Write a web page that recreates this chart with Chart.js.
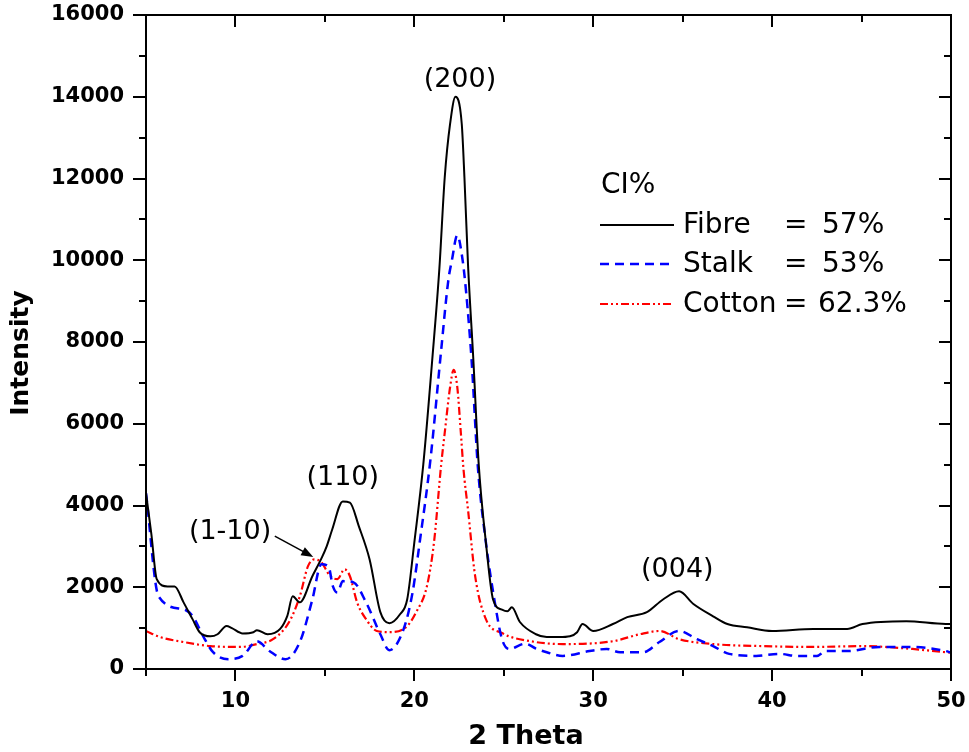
<!DOCTYPE html>
<html>
<head>
<meta charset="utf-8">
<title>XRD</title>
<script src="https://cdn.jsdelivr.net/npm/chart.js@4.4.0/dist/chart.umd.min.js"></script>
<style>
  html, body { margin: 0; padding: 0; background: #fff; }
  #wrap { width: 969px; height: 752px; }
</style>
</head>
<body>
<div id="wrap"><canvas id="xrdChart" width="969" height="752"></canvas></div>
<script>
// 2 Theta (deg) / intensity
const fibreX = [5.0, 5.3, 5.6, 6.2, 6.6, 7.1, 7.6, 8.0, 8.6, 9.0, 9.5, 9.8, 10.4, 11.0, 11.2, 11.8, 12.5, 12.9, 13.2, 13.6, 14.3, 14.8, 15.1, 15.4, 16.0, 16.4, 16.9, 17.5, 18.1, 18.6, 19.2, 19.6, 20.0, 20.5, 21.0, 21.4, 21.7, 22.0, 22.3, 22.65, 22.8, 23.0, 23.3, 23.6, 24.0, 24.4, 24.9, 25.2, 25.45, 25.9, 26.8, 27.4, 28.1, 28.7, 29.1, 29.4, 30.0, 31.1, 31.9, 33.0, 33.9, 34.8, 35.6, 36.7, 37.5, 38.6, 40.0, 42.3, 44.2, 45.05, 47.5, 49.7, 50.0];
const fibreY = [4300, 3300, 2200, 2020, 2020, 1630, 1220, 900, 800, 850, 1050, 1000, 870, 900, 950, 850, 980, 1300, 1780, 1630, 2270, 2700, 3000, 3400, 4100, 4070, 3490, 2680, 1390, 1120, 1340, 1700, 3100, 5000, 7560, 9800, 12030, 13340, 14000, 13340, 12030, 9900, 7560, 5000, 3100, 1700, 1450, 1410, 1510, 1150, 850, 780, 780, 800, 900, 1100, 930, 1100, 1270, 1390, 1700, 1900, 1590, 1290, 1100, 1020, 930, 980, 980, 1100, 1170, 1100, 1100];

const stalkX = [5.0, 5.7, 7.1, 7.6, 8.2, 8.75, 9.6, 10.4, 11.2, 11.9, 12.8, 13.6, 14.3, 14.8, 15.2, 15.45, 15.7, 16.0, 16.6, 17.3, 18.1, 18.6, 19.4, 19.9, 20.3, 20.9, 21.5, 21.9, 22.1, 22.4, 22.7, 22.9, 23.2, 23.55, 24.0, 24.5, 24.9, 25.3, 26.2, 26.8, 27.4, 28.3, 29.8, 30.75, 31.5, 32.8, 33.7, 34.8, 35.8, 36.7, 37.6, 39.1, 40.4, 41.4, 42.5, 43.0, 44.2, 46.0, 47.85, 49.7, 50.0];
const stalkY = [4300, 1780, 1460, 1300, 800, 410, 240, 320, 680, 440, 240, 660, 1700, 2560, 2510, 2020, 1870, 2150, 2120, 1630, 850, 460, 975, 1870, 3100, 5120, 7800, 9510, 10000, 10610, 10000, 9200, 7560, 4950, 3100, 1630, 730, 490, 620, 500, 410, 320, 440, 490, 410, 410, 660, 930, 730, 560, 370, 320, 370, 320, 320, 440, 440, 540, 540, 440, 400];

const cottonX = [5.0, 5.8, 7.1, 8.6, 10.3, 11.2, 12.1, 13.0, 13.6, 14.05, 14.4, 14.8, 15.3, 15.7, 16.1, 16.4, 16.8, 17.3, 17.9, 18.6, 19.6, 20.1, 20.7, 21.1, 21.5, 21.7, 22.0, 22.2, 22.4, 22.6, 22.75, 23.0, 23.4, 24.0, 24.9, 26.5, 28.3, 31.1, 32.6, 33.7, 34.8, 36.7, 39.5, 42.3, 45.05, 47.85, 49.7, 50.0];
const cottonY = [930, 780, 660, 560, 540, 610, 730, 1150, 1780, 2510, 2680, 2610, 2270, 2200, 2440, 2270, 1630, 1220, 930, 900, 1050, 1390, 2020, 3100, 5000, 5780, 6900, 7320, 6900, 5780, 4880, 3900, 2270, 1220, 880, 680, 610, 680, 850, 930, 730, 610, 560, 540, 560, 490, 410, 400];

const seriesNames = ['Fibre', 'Stalk', 'Cotton'];
const seriesCI = ['57%', '53%', '62.3%'];
const legendTitle = 'CI%';

const xTickLabels = [10, 20, 30, 40, 50];
const xTickMarks = [5, 10, 15, 20, 25, 30, 35, 40, 45, 50];
const yTickLabels = [0, 2000, 4000, 6000, 8000, 10000, 12000, 14000, 16000];
const yTickMarks = [0, 1000, 2000, 3000, 4000, 5000, 6000, 7000, 8000, 9000, 10000, 11000, 12000, 13000, 14000, 15000, 16000];

const peakNames = ['(1-10)', '(110)', '(200)', '(004)'];
const peakAt = [[9.7, 3350], [16.0, 4670], [22.55, 14410], [34.7, 2420]];
const arrowFrom = [12.2, 3250];
const arrowTo = [14.35, 2740];

const toPoints = (xs, ys) => xs.map((v, i) => ({ x: v, y: ys[i] }));

Chart.defaults.font.family = '"DejaVu Sans", sans-serif';
Chart.defaults.color = '#000';

function seg(ctx, x1, y1, x2, y2) {
    ctx.beginPath();
    ctx.moveTo(x1, y1);
    ctx.lineTo(x2, y2);
    ctx.stroke();
}

// no extra room for label overflow, the layout padding handles it
function noOverflow(s) {
    s.paddingTop = 0;
    s.paddingBottom = 0;
    s.paddingLeft = 0;
    s.paddingRight = 0;
}

const frameAndNotes = {
    id: 'frameAndNotes',
    afterDraw(chart) {
        const { ctx, chartArea: a, scales: { x, y } } = chart;
        ctx.save();
        ctx.strokeStyle = '#000';
        ctx.lineWidth = 2;
        ctx.setLineDash([]);
        ctx.strokeRect(a.left, a.top, a.right - a.left, a.bottom - a.top);

        // tick marks: outward bottom/left, inward top/right
        xTickMarks.forEach(v => {
            const px = Math.round(x.getPixelForValue(v));
            const major = xTickLabels.includes(v);
            seg(ctx, px, a.bottom, px, a.bottom + (major ? 12 : 7));
            seg(ctx, px, a.top, px, a.top + (major ? 12 : 7));
        });
        yTickMarks.forEach(v => {
            const py = Math.round(y.getPixelForValue(v));
            const major = yTickLabels.includes(v);
            seg(ctx, a.left - (major ? 13 : 7), py, a.left, py);
            seg(ctx, a.right - (major ? 12 : 7), py, a.right, py);
        });

        // peak labels
        ctx.fillStyle = '#000';
        ctx.font = '27px "DejaVu Sans"';
        ctx.textAlign = 'center';
        ctx.textBaseline = 'middle';
        peakNames.forEach((t, i) => {
            ctx.fillText(t, x.getPixelForValue(peakAt[i][0]), y.getPixelForValue(peakAt[i][1]));
        });

        // arrow to (1-10)
        const ax1 = x.getPixelForValue(arrowFrom[0]), ay1 = y.getPixelForValue(arrowFrom[1]);
        const ax2 = x.getPixelForValue(arrowTo[0]), ay2 = y.getPixelForValue(arrowTo[1]);
        const ang = Math.atan2(ay2 - ay1, ax2 - ax1);
        ctx.lineWidth = 1.5;
        seg(ctx, ax1, ay1, ax2 - 8 * Math.cos(ang), ay2 - 8 * Math.sin(ang));
        ctx.beginPath();
        ctx.moveTo(ax2, ay2);
        ctx.lineTo(ax2 - 12 * Math.cos(ang) + 4.5 * Math.sin(ang), ay2 - 12 * Math.sin(ang) - 4.5 * Math.cos(ang));
        ctx.lineTo(ax2 - 12 * Math.cos(ang) - 4.5 * Math.sin(ang), ay2 - 12 * Math.sin(ang) + 4.5 * Math.cos(ang));
        ctx.closePath();
        ctx.fill();

        // legend
        ctx.font = '28px "DejaVu Sans"';
        ctx.textAlign = 'left';
        ctx.fillText(legendTitle, 601, 186);
        const rows = [225, 264, 304];
        chart.data.datasets.forEach((ds, i) => {
            ctx.strokeStyle = ds.borderColor;
            ctx.lineWidth = ds.borderWidth;
            ctx.setLineDash(ds.borderDash || []);
            seg(ctx, 600, rows[i], 674, rows[i]);
            ctx.setLineDash([]);
            ctx.fillText(seriesNames[i], 683, rows[i] + 1);
            ctx.fillText('=', 784, rows[i] + 1);
            ctx.fillText(seriesCI[i], i === 2 ? 818 : 822, rows[i] + 1);
        });

        // axis titles
        ctx.font = 'bold 27px "DejaVu Sans"';
        ctx.textAlign = 'center';
        ctx.fillText('2 Theta', 526, 737);
        ctx.save();
        ctx.translate(21, 353);
        ctx.rotate(-Math.PI / 2);
        ctx.font = 'bold 25px "DejaVu Sans"';
        ctx.fillText('Intensity', 0, 0);
        ctx.restore();

        ctx.restore();
    }
};

new Chart(document.getElementById('xrdChart'), {
    type: 'line',
    data: {
        datasets: [
            {
                label: seriesNames[0],
                data: toPoints(fibreX, fibreY),
                borderColor: '#000000',
                borderWidth: 2,
                pointRadius: 0,
                cubicInterpolationMode: 'monotone'
            },
            {
                label: seriesNames[1],
                data: toPoints(stalkX, stalkY),
                borderColor: '#0000ff',
                borderWidth: 2.5,
                borderDash: [9, 6],
                pointRadius: 0,
                cubicInterpolationMode: 'monotone'
            },
            {
                label: seriesNames[2],
                data: toPoints(cottonX, cottonY),
                borderColor: '#ff0000',
                borderWidth: 2.2,
                borderDash: [8, 3, 2, 3, 2, 3],
                pointRadius: 0,
                cubicInterpolationMode: 'monotone'
            }
        ]
    },
    options: {
        responsive: false,
        animation: false,
        devicePixelRatio: 1,
        layout: { padding: { top: 15, right: 18, left: 0, bottom: 0 } },
        plugins: {
            legend: { display: false },
            tooltip: { enabled: false }
        },
        scales: {
            x: {
                type: 'linear',
                min: 5,
                max: 50,
                afterBuildTicks: s => { s.ticks = xTickLabels.map(v => ({ value: v })); },
                afterFit: s => { s.height = 83; noOverflow(s); },
                grid: { display: false, drawTicks: false },
                border: { display: false },
                ticks: {
                    autoSkip: false,
                    maxRotation: 0,
                    padding: 20,
                    font: { size: 21, weight: 'bold' },
                    callback: v => String(v)
                }
            },
            y: {
                type: 'linear',
                min: 0,
                max: 16000,
                afterBuildTicks: s => { s.ticks = yTickLabels.map(v => ({ value: v })); },
                afterFit: s => { s.width = 146; noOverflow(s); },
                grid: { display: false, drawTicks: false },
                border: { display: false },
                ticks: {
                    autoSkip: false,
                    padding: 22,
                    font: { size: 21, weight: 'bold' },
                    callback: v => String(v)
                }
            }
        }
    },
    plugins: [frameAndNotes]
});
</script>
</body>
</html>
